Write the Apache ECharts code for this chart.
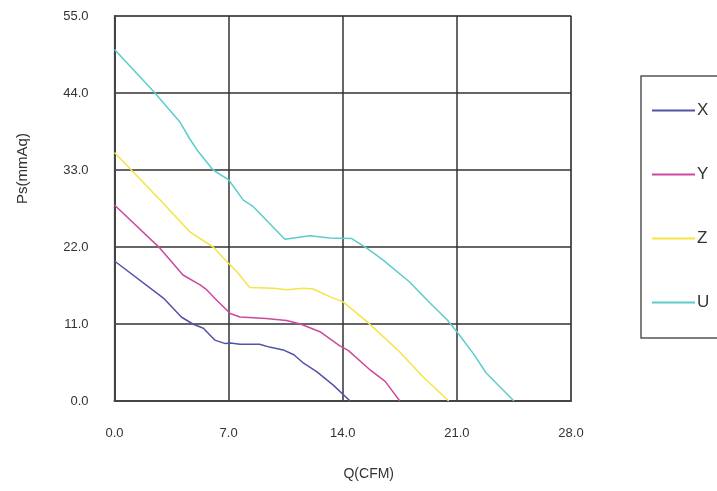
<!DOCTYPE html>
<html><head><meta charset="utf-8">
<script src="https://cdn.jsdelivr.net/npm/echarts@6/dist/echarts.min.js"></script>
<style>html,body{margin:0;padding:0;background:#fff}#c{width:717px;height:491px}</style>
</head><body><div id="c"></div>
<script>
const seriesNames = ['X', 'Y', 'Z', 'U'];
const seriesColors = ['#5252a8', '#cc4a9c', '#f5e446', '#5ccccc'];
const xTicks = [0, 7, 14, 21, 28];
const yTicks = [0, 11, 22, 33, 44, 55];
const dataX = [[0,20.0],[3.0,14.7],[4.1,12.0],[4.8,11.0],[5.45,10.4],[6.15,8.7],[6.8,8.2],[7.1,8.3],[7.7,8.1],[8.9,8.1],[9.5,7.7],[10.35,7.3],[11.0,6.6],[11.6,5.4],[12.4,4.2],[13.4,2.3],[14.45,0]];
const dataY = [[0,28.0],[2.8,21.8],[4.2,18.0],[5.25,16.6],[5.65,15.9],[6.27,14.4],[7.1,12.5],[7.7,12.0],[9.3,11.8],[10.55,11.5],[11.4,11.0],[12.6,9.9],[13.8,7.9],[14.35,7.2],[15.7,4.4],[16.6,2.8],[17.5,0]];
const dataZ = [[0,35.5],[2.8,28.7],[4.6,24.2],[6.05,22.0],[6.9,19.9],[7.5,18.5],[8.3,16.2],[9.75,16.1],[10.55,15.9],[11.6,16.1],[12.2,16.0],[13.3,14.8],[14.0,14.2],[15.5,11.3],[17.5,7.0],[18.9,3.5],[20.5,0]];
const dataU = [[0,50.2],[2.4,44.2],[4.0,39.9],[4.6,37.5],[5.05,35.9],[6.05,33.0],[7.0,31.6],[7.9,28.7],[8.5,27.8],[10.45,23.1],[12.0,23.6],[13.2,23.3],[14.55,23.2],[15.5,21.8],[16.5,20.1],[18.1,17.0],[19.35,14.0],[20.4,11.6],[21.0,9.9],[22.0,6.8],[22.8,4.0],[24.5,0]];
const allData = [dataX, dataY, dataZ, dataU];

const chart = echarts.init(document.getElementById('c'), null, {renderer: 'canvas'});
const font = 'Liberation Sans, Arial, sans-serif';
chart.setOption({
  animation: false,
  backgroundColor: '#fff',
  grid: {left: 114.5, right: 146, top: 16, bottom: 90, show: true, borderColor: '#aaaaaa', borderWidth: 1.5},
  xAxis: {
    type: 'value', min: xTicks[0], max: xTicks[xTicks.length-1], interval: 7,
    name: 'Q(CFM)', nameLocation: 'middle', nameGap: 66,
    nameTextStyle: {fontFamily: font, fontSize: 14, color: '#333', padding: [0,0,0,52]},
    axisLine: {show: true, onZero: false, lineStyle: {color: '#444', width: 2}},
    axisTick: {show: false},
    axisLabel: {margin: 26, fontFamily: font, fontSize: 13, color: '#333', formatter: v => v.toFixed(1)},
    splitLine: {show: true, lineStyle: {color: '#333', width: 1.5}}
  },
  yAxis: {
    type: 'value', min: yTicks[0], max: yTicks[yTicks.length-1], interval: 11,
    name: 'Ps(mmAq)', nameLocation: 'middle', nameGap: 84,
    nameTextStyle: {fontFamily: font, fontSize: 15, color: '#333', padding: [0,0,0,80]},
    axisLine: {show: true, onZero: false, lineStyle: {color: '#444', width: 2}},
    axisTick: {show: false},
    axisLabel: {margin: 26, fontFamily: font, fontSize: 13, color: '#333', formatter: v => v.toFixed(1)},
    splitLine: {show: true, lineStyle: {color: '#333', width: 1.5}}
  },
  legend: {
    orient: 'vertical', left: 641, top: 76,
    padding: [26, 40, 27, 11],
    itemGap: 47, itemWidth: 43, itemHeight: 2, icon: 'rect',
    borderColor: '#555', borderWidth: 1.5,
    textStyle: {fontFamily: font, fontSize: 17, color: '#333', padding: [0,0,0,-3]},
    data: seriesNames
  },
  series: seriesNames.map((n, i) => ({
    name: n, type: 'line', data: allData[i], symbol: 'none', smooth: false,
    lineStyle: {color: seriesColors[i], width: 1.5},
    itemStyle: {color: seriesColors[i]}
  }))
});
</script></body></html>
